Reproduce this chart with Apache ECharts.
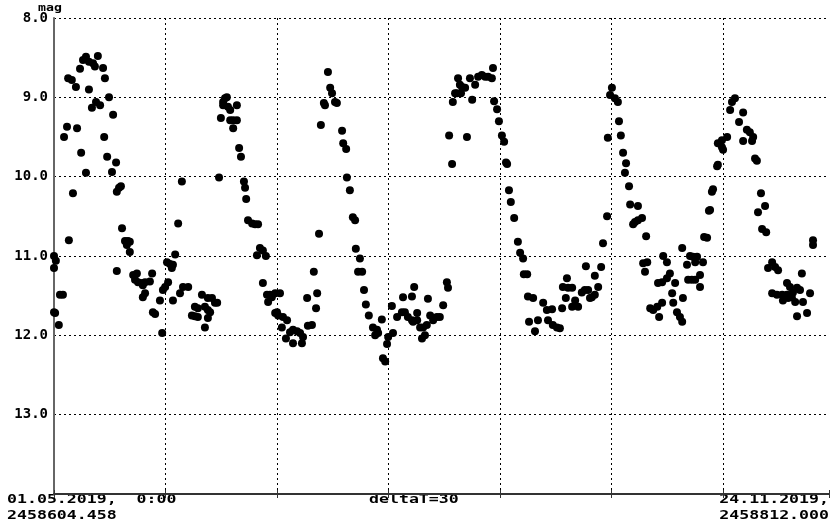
<!DOCTYPE html>
<html>
<head>
<meta charset="utf-8">
<script src="https://cdn.jsdelivr.net/npm/echarts@6/dist/echarts.min.js"></script>
<style>
html,body{margin:0;padding:0;background:#fff;}
#c{width:830px;height:527px;}
</style>
</head>
<body>
<div id="c"></div>
<script>
// x: days since JD 2458604.458 ; y: magnitude
const startLabel = ['01.05.2019,  0:00', '2458604.458'];
const endLabel = ['24.11.2019,', '2458812.000'];
const deltaLabel = 'deltaT=30';
const yTicks = [8, 9, 10, 11, 12, 13, 14];

const cycle1 = [
 [0.0,11.00],[0.5,11.06],[0.0,11.15],[0.0,11.71],[0.3,11.72],[1.6,11.49],[2.4,11.49],[1.3,11.87],
 [2.7,9.50],[3.5,9.37],[4.0,10.80],[3.8,8.76],[4.8,8.78],[5.1,10.21],[5.9,8.87],[6.2,9.39],
 [7.0,8.64],[7.3,9.70],[7.8,8.53],[8.6,8.49],[8.6,9.95],[9.4,8.90],[9.4,8.55],[10.2,9.13],
 [10.5,8.57],[11.0,8.61],[11.3,9.06],[11.8,8.48],[12.4,9.10],[13.2,8.63],[13.5,9.50],[13.7,8.76],
 [14.3,9.75],[14.8,9.00],[15.6,9.94],[15.9,9.22],[16.7,9.82],[16.9,10.19],[17.5,10.14],[18.0,10.12],
 [16.9,11.19],[18.3,10.65],[19.1,10.81],[19.9,10.81],[19.6,10.86],[20.4,10.95],[20.4,10.82],
 [21.3,11.24],[22.3,11.22],[21.8,11.30],[22.6,11.33],[23.7,11.34],[24.5,11.33],[26.4,11.22],
 [25.8,11.32],[23.9,11.37],[24.5,11.47],[23.9,11.52],[28.5,11.56],[26.6,11.71],[27.2,11.73],
 [29.1,11.97],[32.6,10.98],[30.4,11.08],[31.2,11.10],[32.0,11.11],[31.7,11.15],[30.7,11.33],
 [29.9,11.39],[29.3,11.43],[32.0,11.56],[33.9,11.47],[34.7,11.39],[36.1,11.39],[33.4,10.59],
 [34.4,10.06],[39.8,11.49],[41.4,11.53],[42.5,11.53],[43.3,11.59],[43.9,11.59],[37.9,11.64],
 [38.7,11.66],[40.6,11.64],[41.4,11.68],[42.0,11.71],[37.1,11.75],[37.9,11.76],[38.7,11.77],
 [41.4,11.78],[40.6,11.90]
];
const cycle2 = [
 [44.4,10.01],[44.9,9.26],[45.5,9.06],[46.0,9.01],[46.5,9.00],[45.5,9.10],[46.8,9.12],[47.4,9.16],
 [47.4,9.29],[48.2,9.29],[49.2,9.29],[48.2,9.39],[49.2,9.10],[49.8,9.64],[50.3,9.75],[51.1,10.06],
 [51.4,10.14],[51.7,10.28],[52.2,10.55],[53.3,10.59],[54.1,10.60],[54.9,10.60],[55.4,10.90],
 [56.2,10.93],[57.0,11.00],[54.6,10.99],[56.2,11.34],[57.3,11.49],[58.1,11.49],[57.6,11.58],
 [59.5,11.47],[60.0,11.71],[58.6,11.52],[60.8,11.47],[59.5,11.72],[60.3,11.75],[61.6,11.77],
 [62.7,11.81],[61.3,11.90],[62.4,12.04],[63.5,11.96],[64.3,11.93],[65.4,11.95],[66.2,11.97],
 [67.0,12.02],[64.3,12.10],[66.7,12.10],[68.3,11.88],[69.4,11.87],[68.1,11.53],[70.8,11.47],
 [70.5,11.66],[69.9,11.20],[71.3,10.72]
];
const cycle3 = [
 [71.8,9.35],[72.6,9.07],[72.9,9.10],[74.3,8.88],[74.8,8.95],[75.6,9.06],[76.1,9.07],[73.7,8.68],
 [77.5,9.42],[77.8,9.58],[78.6,9.65],[78.8,10.01],[79.6,10.17],[80.4,10.51],[81.0,10.55],
 [81.2,10.91],[82.3,11.03],[81.8,11.20],[82.9,11.20],[83.4,11.43],[83.9,11.61],[84.7,11.75],
 [85.8,11.90],[86.9,11.93],[86.4,12.00],[87.2,11.97],[88.2,11.80],[89.6,12.11],[89.9,12.02],
 [91.2,11.97],[88.5,12.29],[89.1,12.33],[90.9,11.63],[92.3,11.77],[93.6,11.71],[94.4,11.71],
 [95.2,11.77],[96.3,11.81],[96.6,11.83],[93.9,11.52],[96.3,11.51],[96.9,11.39],[97.7,11.72],
 [97.7,11.81],[98.5,11.90],[99.3,11.90],[100.3,11.87],[101.2,11.75],[102.0,11.81],[103.0,11.77],
 [103.8,11.77],[99.0,12.04],[99.8,12.00],[100.6,11.54],[104.7,11.62],[105.7,11.33],[106.0,11.40]
];
const cycle4 = [
 [106.3,9.48],[107.1,9.84],[107.3,9.06],[107.9,8.95],[108.7,8.76],[109.2,8.84],[109.8,8.87],
 [110.6,8.88],[111.1,9.50],[111.9,8.76],[112.5,9.03],[113.3,8.84],[114.1,8.74],[115.1,8.72],
 [116.0,8.74],[116.8,8.74],[117.8,8.76],[118.1,8.63],[108.4,8.95],[109.5,8.95],[118.4,9.05],
 [119.2,9.15],[119.7,9.30],[120.5,9.48],[121.1,9.56],[121.6,9.82],[121.9,9.84],[122.4,10.17],
 [122.9,10.32],[123.8,10.52],[124.8,10.82],[125.4,10.96],[126.2,11.03],[126.4,11.23],[127.3,11.23],
 [127.5,11.51],[128.9,11.53],[127.8,11.83],[129.4,11.95],[130.2,11.81],[131.6,11.59],[132.6,11.68],
 [132.9,11.81],[134.0,11.67],[134.2,11.87],[135.3,11.90],[136.1,11.91],[136.7,11.66],[136.9,11.39],
 [138.0,11.28],[138.3,11.40],[139.4,11.40],[137.7,11.53],[139.4,11.64],[140.2,11.56],[141.0,11.64],
 [142.0,11.46],[142.8,11.43],[143.7,11.43],[144.2,11.53],[144.7,11.52],[145.5,11.49],[146.4,11.39],
 [143.1,11.13],[145.5,11.25],[147.2,11.14],[147.7,10.84],[148.8,10.50]
];
const cycle5 = [
 [149.0,9.51],[150.1,8.88],[149.6,8.97],[150.9,9.01],[151.7,9.06],[152.0,9.30],[152.5,9.48],
 [153.1,9.70],[153.9,9.83],[153.6,9.95],[154.7,10.12],[155.0,10.35],[157.1,10.37],[155.8,10.60],
 [156.3,10.57],[157.1,10.55],[158.2,10.52],[159.3,10.75],[158.5,11.09],[159.6,11.08],[159.0,11.20],
 [163.9,11.00],[164.9,11.08],[169.0,10.90],[171.1,11.00],[171.9,11.01],[173.0,11.01],[172.5,11.08],
 [174.6,11.08],[170.3,11.11],[165.7,11.22],[164.9,11.28],[163.6,11.33],[162.5,11.34],[167.1,11.34],
 [170.6,11.30],[171.6,11.30],[172.5,11.30],[173.8,11.24],[173.8,11.39],[166.3,11.47],[169.2,11.53],
 [166.6,11.59],[160.4,11.66],[161.2,11.68],[162.3,11.64],[163.6,11.59],[162.8,11.77],[167.6,11.71],
 [168.4,11.77],[169.0,11.83],[175.7,10.77],[174.9,10.76],[176.2,10.43],[176.5,10.42],[177.0,10.19],
 [177.3,10.16],[178.4,9.87],[178.6,9.85]
];
const cycle6 = [
 [178.6,9.58],[179.7,9.54],[180.0,9.66],[181.1,9.50],[179.7,9.63],[181.9,9.16],[182.4,9.06],
 [183.2,9.01],[184.3,9.31],[185.4,9.19],[185.4,9.55],[186.4,9.41],[187.2,9.44],[187.8,9.55],
 [188.1,9.50],[188.6,9.77],[189.1,9.80],[190.2,10.21],[191.3,10.37],[189.4,10.45],[190.5,10.66],
 [191.6,10.70],[193.2,11.08],[194.0,11.14],[194.8,11.18],[192.1,11.15],[201.2,11.22],[197.2,11.34],
 [198.0,11.39],[199.9,11.40],[200.7,11.43],[198.8,11.46],[197.2,11.49],[193.2,11.47],[194.5,11.49],
 [195.9,11.49],[196.1,11.56],[197.5,11.53],[198.5,11.52],[199.4,11.58],[201.5,11.58],[203.4,11.47],
 [199.9,11.76],[202.6,11.72],[204.2,10.80],[204.2,10.86]
];

const allPoints = [].concat(cycle1, cycle2, cycle3, cycle4, cycle5, cycle6);

const MONO = '"DejaVu Sans Mono", "Liberation Mono", monospace';
const chart = echarts.init(document.getElementById('c'), null, {renderer: 'canvas'});

const dotted = {show: true, lineStyle: {color: '#000', width: 1, type: [2, 3]}};

chart.setOption({
  animation: false,
  backgroundColor: '#fff',
  grid: {left: 54, right: 1, top: 18, bottom: 33, containLabel: false},
  xAxis: [{
    type: 'value', min: 0, max: 208.5, interval: 30,
    axisLine: {show: true, onZero: false, lineStyle: {color: '#333', width: 2}},
    axisTick: {show: true, length: 4, lineStyle: {color: '#333', width: 1}},
    axisLabel: {show: false},
    splitLine: Object.assign({showMinLine: false, showMaxLine: false}, dotted)
  }, {
    type: 'value', min: 0, max: 208.5, interval: 30, position: 'bottom',
    axisLine: {show: false},
    axisTick: {show: true, inside: true, length: 4, lineStyle: {color: '#333', width: 1}},
    axisLabel: {show: false},
    splitLine: {show: false}
  }],
  yAxis: {
    type: 'value', min: 8, max: 14, interval: 1, inverse: true,
    axisLine: {show: true, onZero: false, lineStyle: {color: '#666', width: 2}},
    axisTick: {show: false},
    axisLabel: {
      color: '#000', fontFamily: MONO, fontWeight: 'bold', fontSize: 14, margin: 6,
      formatter: v => (v >= 14 ? '' : v.toFixed(1))
    },
    splitLine: Object.assign({showMaxLine: false}, dotted)
  },
  series: [{
    type: 'scatter', xAxisIndex: 0, data: allPoints,
    symbol: 'circle', symbolSize: 8,
    itemStyle: {color: '#000', opacity: 1}, silent: true, z: 5
  }],
  graphic: [
    {type: 'text', left: 38, top: 3, scaleX: 1.2,
     style: {text: 'mag', font: 'bold 11px ' + MONO, fill: '#000'}},
    {type: 'text', left: 7, top: 494, scaleX: 1.38,
     style: {text: startLabel[0], font: 'bold 12px ' + MONO, fill: '#000'}},
    {type: 'text', left: 7, top: 510, scaleX: 1.38,
     style: {text: startLabel[1], font: 'bold 12px ' + MONO, fill: '#000'}},
    {type: 'text', left: 369, top: 494, scaleX: 1.38,
     style: {text: deltaLabel, font: 'bold 12px ' + MONO, fill: '#000'}},
    {type: 'text', right: 1, top: 494, scaleX: 1.38,
     style: {text: endLabel[0], font: 'bold 12px ' + MONO, fill: '#000'}},
    {type: 'text', right: 1, top: 510, scaleX: 1.38,
     style: {text: endLabel[1], font: 'bold 12px ' + MONO, fill: '#000'}}
  ]
});
</script>
</body>
</html>
